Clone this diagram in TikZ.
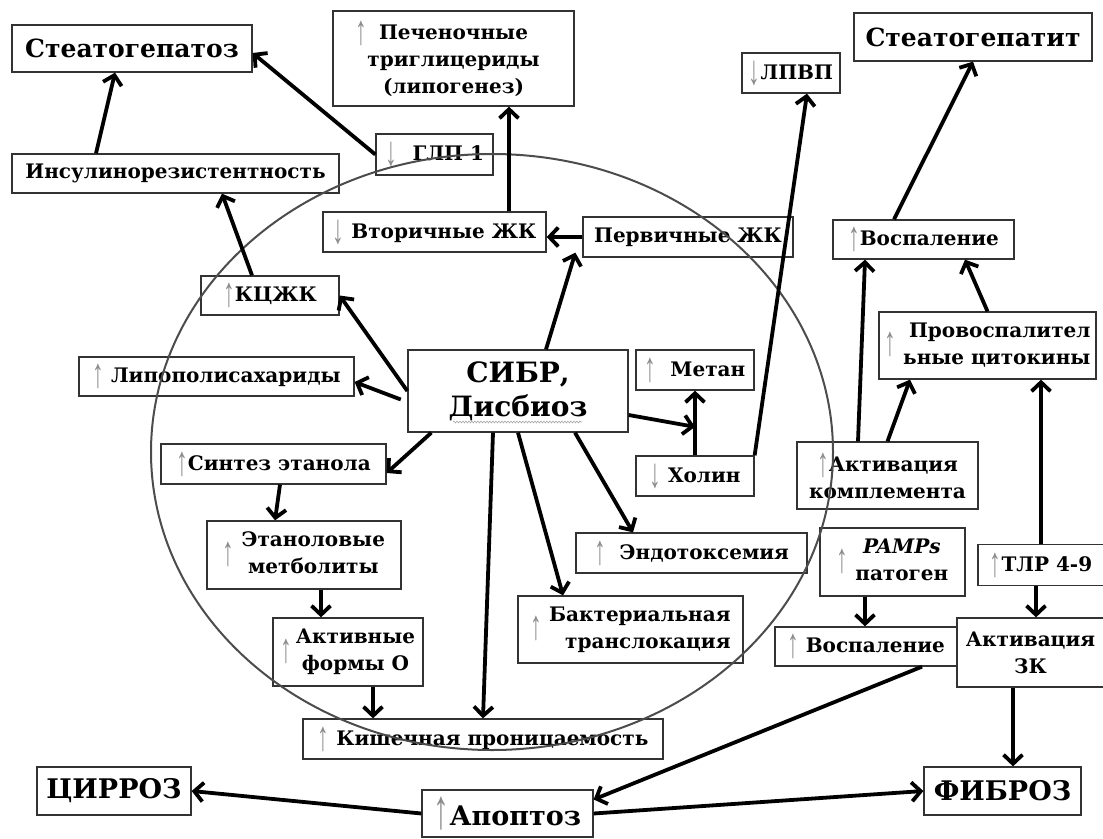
\documentclass[tikz,border=0pt]{standalone}
\usepackage{fontspec}
\setmainfont{DejaVu Serif}
\newfontfamily\arrfont{Liberation Serif}[Scale=1.3]
\usetikzlibrary{arrows.meta, calc, decorations.pathmorphing}

\newcommand{\up}{\raisebox{-0.25em}{\scalebox{0.9}[1.6]{\arrfont\mdseries\textcolor{black!45}{↑}}}}
\newcommand{\dn}{\raisebox{-0.25em}{\scalebox{0.9}[1.6]{\arrfont\mdseries\textcolor{black!45}{↓}}}}
\newcommand{\twoline}[2]{\begin{tabular}[c]{@{}#1@{}}#2\end{tabular}}

\begin{document}
\begin{tikzpicture}[
    x=1pt, y=-1pt,
    box/.style={draw=black!80, line width=1.3pt, inner sep=0pt, align=center,
        font=\bfseries\fontsize{20}{27}\selectfont},
    sz/.style 2 args={minimum width=#1pt, minimum height=#2pt},
    title/.style={box, font=\bfseries\fontsize{25}{30}\selectfont},
    core/.style={box, font=\bfseries\fontsize{28}{34}\selectfont},
    outcome/.style={box, font=\bfseries\fontsize{27}{32}\selectfont},
    link/.style={line width=3.8pt, -{Straight Barb[length=9pt, width=19pt]}},
]
\useasboundingbox (0,0) rectangle (1103,838);

\node[title, sz={240}{47}] (steatoz) at (132,48.5) {Стеатогепатоз};
\node[box, sz={241}{95}] (trig) at (453.5,58.5) {\llap{\up\hspace{12pt}}Печеночные\\триглицериды\\(липогенез)};
\node[box, sz={98}{40}] (lpvp) at (791,73) {\dn ЛПВП};
\node[title, sz={238}{48}] (gepatit) at (973,37) {Стеатогепатит};

\node[box, sz={117}{41}] (glp) at (434.5,154.5) {\dn\hspace{16pt}ГЛП 1};
\node[box, sz={327}{39}] (insul) at (175.5,173.5) {Инсулинорезистентность};
\node[box, sz={223}{40}] (vtor) at (434.5,232) {\dn\ Вторичные ЖК};
\node[box, sz={210}{40}] (perv) at (688,237) {Первичные ЖК};
\node[box, sz={181}{39}] (vosp1) at (923.5,239.5) {\up Воспаление};
\node[box, sz={138}{39}] (kcjk) at (270,295.5) {\up КЦЖК};
\node[box, sz={217}{67}] (provosp) at (987.5,345.5) {\up\ \twoline{r}{Провоспалител\\ьные цитокины}};
\node[box, sz={275}{39}] (lipo) at (216.5,376.5) {\up\ Липополисахариды};

\node[core, sz={220}{82}] (sibr) at (518,391) {СИБР,\\Дисбиоз};
\node[box, sz={118}{40}] (metan) at (695,370) {\up\ \ Метан};
\node[box, sz={118}{40}] (holin) at (695,476) {\dn\ Холин};
\node[box, sz={181}{67}] (kompl) at (887.5,475.5) {\up Активация\\комплемента};
\node[box, sz={225}{40}] (sintez) at (273.5,464) {\up Синтез этанола};
\node[box, sz={194}{68}] (etanol) at (304,555) {\up\ \twoline{c}{Этаноловые\\метболиты}};
\node[box, sz={231}{40}] (endo) at (691.5,553) {\up\hspace{14pt}Эндотоксемия};
\node[box, sz={145}{68}] (pamps) at (892.5,562) {\up\ \twoline{c}{\textit{PAMPs}\\патоген}};
\node[box, sz={126}{41}] (tlr) at (1041,565) {\up ТЛР 4-9};
\node[box, sz={225}{67}] (bakt) at (630.5,629.5) {\up\ \twoline{r}{Бактериальная\\транслокация}};
\node[box, sz={150}{68}] (aktiv) at (348,652) {\up\,\twoline{c}{Активные\\формы О}};
\node[box, sz={182}{39}] (vosp2) at (866,646.5) {\up\ Воспаление};
\node[box, sz={147}{69}] (zk) at (1030.5,652.5) {Активация\\ЗК};
\node[box, sz={360}{40}] (kish) at (483,739) {\up\ Кишечная проницаемость};

\node[outcome, sz={154}{48}] (cirr) at (114,791) {ЦИРРОЗ};
\node[outcome, sz={171}{47}] (apopt) at (507.5,813.5) {\raisebox{4pt}{\up}Апоптоз};
\node[outcome, sz={157}{48}] (fibr) at (1002.5,791) {ФИБРОЗ};

\draw[black!35, line width=0.6pt, decorate, decoration={snake, amplitude=0.9pt, segment length=3pt}] (453,422) -- (582,422);
\draw[black!70, line width=2pt] (492,452) ellipse [x radius=341pt, y radius=298pt];

\coordinate (hm) at ($(holin.north)!0.44!(metan.south)$);

\draw[link] ([xshift=-79.5]insul.north) -- ([xshift=-17]steatoz.south);
\draw[link] (glp.west) -- ([yshift=-4.5]steatoz.east);
\draw[link] ([xshift=74.5]vtor.north) -- ([xshift=74.5]vtor.north |- trig.south);
\draw[link] ([xshift=-18]kcjk.north) -- ([xshift=46.5]insul.south);
\draw[link] (sibr.west) -- (kcjk.east);
\draw[link, shorten <=7pt] ([yshift=-11]sibr.west) -- ([yshift=-5.5]lipo.east);
\draw[link] ([xshift=28]sibr.north) -- ([xshift=-7,yshift=5]perv.south west);
\draw[link] (perv.west) -- (perv.west -| vtor.east);
\draw[link] (holin.north east) -- ([xshift=16]lpvp.south);
\draw[link] ([xshift=-29.5]vosp1.north) -- (gepatit.south);
\draw[link] ([yshift=-24]sibr.east) -- (hm);
\draw[link] (holin.north) -- (metan.south);
\draw[link] ([xshift=24]sibr.south west) -- ([yshift=-9]sintez.east);
\draw[link] ([xshift=-25]sibr.south) -- (kish.north);
\draw[link] (sibr.south) -- ([xshift=-67.5]bakt.north);
\draw[link] ([xshift=57]sibr.south) -- ([xshift=-58.5]endo.north);
\draw[link] ([xshift=6.5]sintez.south) -- ([xshift=-29]etanol.north);
\draw[link] ([xshift=17]etanol.south) -- ([xshift=17]etanol.south |- aktiv.north);
\draw[link] ([xshift=25]aktiv.south) -- ([xshift=25]aktiv.south |- kish.north);
\draw[link] ([xshift=-29.5]kompl.north) -- ([xshift=-58.5]vosp1.south);
\draw[link] (kompl.north) -- ([xshift=-77.5]provosp.south);
\draw[link] (provosp.north) -- ([xshift=41.5]vosp1.south);
\draw[link] (tlr.north) -- (tlr.north |- provosp.south);
\draw[link] ([xshift=-27.5]pamps.south) -- ([xshift=-27.5]pamps.south |- vosp2.north);
\draw[link] ([xshift=-5]tlr.south) -- ([xshift=-5]tlr.south |- zk.north);
\draw[link] ([xshift=56]vosp2.south) -- ([yshift=14]apopt.east);
\draw[link] ([xshift=-17.5]zk.south) -- ([xshift=-17.5]zk.south |- fibr.north);
\draw[link] (apopt.west) -- (cirr.east);
\draw[link] (apopt.east) -- (fibr.west);

\end{tikzpicture}
\end{document}
